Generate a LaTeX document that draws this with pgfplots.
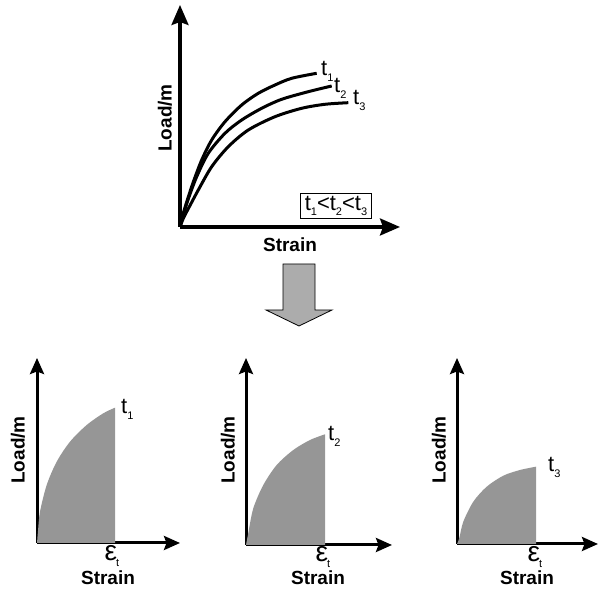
\documentclass[border=0pt]{standalone}
\usepackage{fontspec}
\setmainfont{Liberation Sans}
\usepackage{pgfplots}
\pgfplotsset{compat=1.18}
\usetikzlibrary{arrows.meta}
\definecolor{fillgray}{RGB}{150,150,150}
\definecolor{arrowgray}{RGB}{172,172,172}
\newcommand\sub[1]{\raisebox{-0.45ex}{\fontsize{11}{11}\selectfont #1}}
\newcommand\lab{\fontsize{19}{21}\selectfont\bfseries}
\newcommand\tl{\fontsize{22}{24}\selectfont}
\pgfplotsset{
  every non boxed x axis/.style={},
  every non boxed y axis/.style={},
  sk/.style={x=1pt, y=1pt, axis lines=left, xmin=0, ymin=0,
    xtick=\empty, ytick=\empty, clip=false, anchor=origin,
    scale only axis},
  big/.style={axis line style={line width=3.2pt, -{Stealth[length=20pt,width=17pt,inset=3pt]}}},
  small/.style={axis line style={line width=3pt, -{Stealth[length=16pt,width=14pt,inset=2.5pt]}}},
}
\begin{document}
\begin{tikzpicture}
\useasboundingbox (0,0) rectangle (600pt,593pt);
% top chart
\begin{axis}[sk, big, at={(180pt,366pt)}, xmax=220, ymax=222]
\addplot[black, line width=3pt, smooth] coordinates {(0,0)(2.5,11)(6.7,25)(13.3,45)(21.7,67)(31.7,87)(45,105.3)(61.7,122)(78.3,133.7)(95,142)(111.7,148.7)(136.7,153.7)};
\addplot[black, line width=3pt, smooth] coordinates {(0,0)(3,11)(8.3,28)(16.7,50.3)(28.3,73.7)(45,93.7)(61.7,107)(81.7,118.7)(101.7,127.7)(128.3,135.3)(151.7,141)};
\addplot[black, line width=3pt, smooth] coordinates {(0,0)(3.5,9)(10,21.5)(18.3,37)(31.7,60.3)(48.3,80.3)(68.3,97)(95,110.3)(121.7,118.7)(145,122.7)(168.3,124.3)};
\node[anchor=base west, inner sep=0, font=\tl] at (axis cs:141,151) {t\sub{1}};
\node[anchor=base west, inner sep=0, font=\tl] at (axis cs:154,134) {t\sub{2}};
\node[anchor=base west, inner sep=0, font=\tl] at (axis cs:173,122) {t\sub{3}};
\node[draw, line width=1pt, inner xsep=4pt, inner ysep=3pt, font=\tl] at (axis cs:156,21) {t\sub{1}<t\sub{2}<t\sub{3}};
\node[font=\lab] at (axis cs:110,-18) {Strain};
\node[font=\lab, rotate=90] at (axis cs:-15,109) {Load/m};
\end{axis}
% block arrow
\draw[fill=arrowgray, line width=0.8pt] (283pt,329pt) -- (315pt,329pt) -- (315pt,283pt) -- (332pt,283pt) -- (299pt,267pt) -- (266pt,283pt) -- (283pt,283pt) -- cycle;
% bottom 1
\begin{axis}[sk, small, at={(37pt,50pt)}, xmax=143, ymax=185]
\addplot[fill=fillgray, draw=none, smooth] coordinates {(0,0)(1,12)(3,31.3)(9.7,58)(19.7,81.3)(33,101.3)(49.7,118)(66.3,129.7)(78,135.3)} \closedcycle;
\node[anchor=base west, inner sep=0, font=\tl] at (axis cs:84,129) {t\sub{1}};
\node[font=\fontsize{28}{30}\selectfont] at (axis cs:75,-13) {ε\kern-1pt\sub{t}};
\node[font=\lab] at (axis cs:71,-35) {Strain};
\node[font=\lab, rotate=90] at (axis cs:-19,93) {Load/m};
\end{axis}
% bottom 2
\begin{axis}[sk, small, at={(246pt,48pt)}, xmax=146, ymax=187]
\addplot[fill=fillgray, draw=none, smooth] coordinates {(0,0)(2.3,12)(7.3,36.7)(17.3,60)(30.7,80)(47.3,95)(64,105)(79,110.7)} \closedcycle;
\node[anchor=base west, inner sep=0, font=\tl] at (axis cs:82,104) {t\sub{2}};
\node[font=\fontsize{28}{30}\selectfont] at (axis cs:77,-12) {ε\kern-1pt\sub{t}};
\node[font=\lab] at (axis cs:72,-33) {Strain};
\node[font=\lab, rotate=90] at (axis cs:-18,95) {Load/m};
\end{axis}
% bottom 3
\begin{axis}[sk, small, at={(457pt,49pt)}, xmax=141, ymax=186]
\addplot[fill=fillgray, draw=none, smooth] coordinates {(0,0)(2.3,6)(6.3,22.3)(16.3,42.3)(29.7,57.3)(46.3,68.3)(63,74)(79,77.3)} \closedcycle;
\node[anchor=base west, inner sep=0, font=\tl] at (axis cs:91,72) {t\sub{3}};
\node[font=\fontsize{28}{30}\selectfont] at (axis cs:78,-13) {ε\kern-1pt\sub{t}};
\node[font=\lab] at (axis cs:70,-34) {Strain};
\node[font=\lab, rotate=90] at (axis cs:-18,94) {Load/m};
\end{axis}
\end{tikzpicture}
\end{document}
